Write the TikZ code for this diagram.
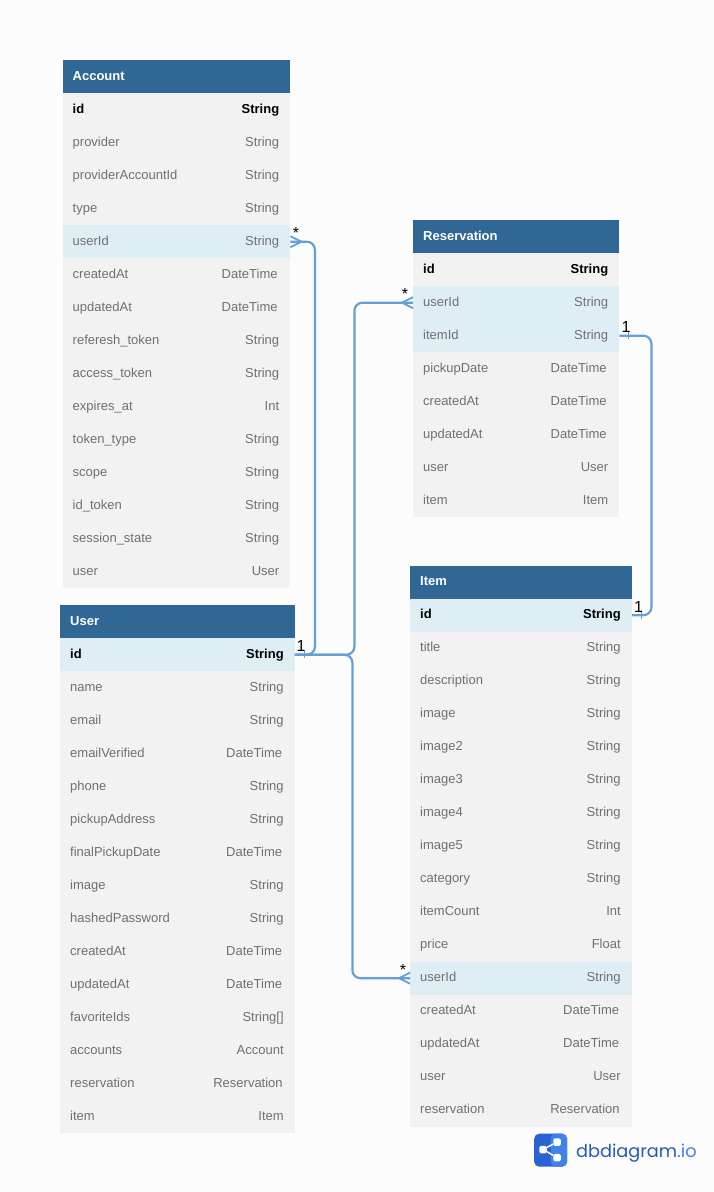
\documentclass[tikz,border=0pt]{standalone}
\usepackage{fontspec}
\setmainfont{Liberation Sans}
\newfontfamily\logofont{Poppins}
\usepackage{xcolor}
\definecolor{pagebg}{HTML}{FCFCFC}
\definecolor{headblue}{HTML}{316795}
\definecolor{bodygray}{HTML}{F2F2F2}
\definecolor{fkblue}{HTML}{DFEDF5}
\definecolor{fieldgray}{HTML}{707070}
\definecolor{linkblue}{HTML}{659FD6}
\definecolor{logodark}{HTML}{2A62D2}
\definecolor{logolight}{HTML}{3E83EA}
\newcommand{\tdate}{DateTime\kern1.6pt}
\newcommand{\tresv}{Reservation\kern1pt}
% table: name, left, top, width, title, rows
\newcommand{\dbtable}[6]{%
  \node[headbox,minimum width=#4pt] (#1-0) at (#2,#3) {};
  \node[headtext] (#1-title) at ([xshift=10pt,yshift=-3.5pt]#1-0.west) {#5};
  \foreach \rowname/\rowtype/\rowkind [count=\i] in {#6} {
    \node[rowbox,\rowkind,minimum width=#4pt] (#1-\i) at (#2,{#3+33*\i}) {};
    \node[rowtext,\rowkind,anchor=base west] (#1-\i-n) at ([xshift=10pt,yshift=-3.5pt]#1-\i.west) {\rowname};
    \node[rowtext,\rowkind,anchor=base east] (#1-\i-t) at ([xshift=-11pt,yshift=-3.5pt]#1-\i.east) {\rowtype};
  }%
}
% many end: anchor, direction away from the table
\newcommand{\crowfoot}[2]{%
  \draw[link,rounded corners=0pt,line width=1.8pt] ([yshift=5.5pt]#1) -- ([xshift=#2*11pt]#1) -- ([yshift=-5.5pt]#1);
}
% one end: anchor, distance from the table
\newcommand{\onetick}[2]{%
  \draw[link,rounded corners=0pt,line width=1.8pt] ([xshift=#2pt,yshift=3.5pt]#1) -- ([xshift=#2pt,yshift=-3.5pt]#1);
}
\begin{document}
\begin{tikzpicture}[%
  x=1pt,y=-1pt,
  every node/.style={font=\fontsize{13}{15}\selectfont},
  headbox/.style={anchor=north west,inner sep=0pt,minimum height=33pt,fill=headblue},
  headtext/.style={anchor=base west,inner sep=0pt,text=white,font=\fontsize{13}{15}\selectfont\bfseries},
  rowbox/.style={anchor=north west,inner sep=0pt,minimum height=33pt},
  rowtext/.style={inner sep=0pt,fill=none},
  rowplain/.style={fill=bodygray,text=fieldgray},
  rowfk/.style={fill=fkblue,text=fieldgray},
  rowpk/.style={fill=bodygray,text=black,font=\fontsize{13}{15}\selectfont\bfseries},
  rowpkfk/.style={fill=fkblue,text=black,font=\fontsize{13}{15}\selectfont\bfseries},
  link/.style={draw=linkblue,line width=2.2pt,rounded corners=8pt},
  endlabel/.style={inner sep=0pt,text=black,font=\fontsize{16}{18}\selectfont}]
\fill[pagebg] (0,0) rectangle (714,1192);
\useasboundingbox (0,0) rectangle (714,1192);

\dbtable{account}{62.5}{60}{227.5}{Account}{%
  id/String/rowpk,provider/String/rowplain,providerAccountId/String/rowplain,
  type/String/rowplain,userId/String/rowfk,createdAt/\tdate/rowplain,
  updatedAt/\tdate/rowplain,referesh\_token/String/rowplain,access\_token/String/rowplain,
  expires\_at/Int/rowplain,token\_type/String/rowplain,scope/String/rowplain,
  id\_token/String/rowplain,session\_state/String/rowplain,user/User/rowplain}

\dbtable{user}{60}{605}{234.5}{User}{%
  id/String/rowpkfk,name/String/rowplain,email/String/rowplain,
  emailVerified/\tdate/rowplain,phone/String/rowplain,pickupAddress/String/rowplain,
  finalPickupDate/\tdate/rowplain,image/String/rowplain,hashedPassword/String/rowplain,
  createdAt/\tdate/rowplain,updatedAt/\tdate/rowplain,favoriteIds/String[]/rowplain,
  accounts/Account/rowplain,reservation/\tresv/rowplain,item/Item/rowplain}

\dbtable{reservation}{413}{220}{206}{Reservation}{%
  id/String/rowpk,userId/String/rowfk,itemId/String/rowfk,
  pickupDate/\tdate/rowplain,createdAt/\tdate/rowplain,updatedAt/\tdate/rowplain,
  user/User/rowplain,item/Item/rowplain}

\dbtable{item}{410}{565.5}{221.5}{Item}{%
  id/String/rowpkfk,title/String/rowplain,description/String/rowplain,
  image/String/rowplain,image2/String/rowplain,image3/String/rowplain,
  image4/String/rowplain,image5/String/rowplain,category/String/rowplain,
  itemCount/Int/rowplain,price/Float/rowplain,userId/String/rowfk,
  createdAt/\tdate/rowplain,updatedAt/\tdate/rowplain,user/User/rowplain,
  reservation/\tresv/rowplain}

% connectors
\draw[link] (user-1.east) -- ++(20,0) |- (account-5.east);
\draw[link] (user-1.east) -- ++(59.5,0) |- (reservation-2.west);
\draw[link] (user-1.east) -- ++(57.5,0) |- (item-12.west);
\draw[link] (reservation-3.east) -- ++(32,0) |- (item-1.east);

\crowfoot{account-5.east}{1}
\crowfoot{reservation-2.west}{-1}
\crowfoot{item-12.west}{-1}
\onetick{user-1.east}{9.5}
\onetick{reservation-3.east}{9}
\onetick{item-1.east}{9.5}

\node[endlabel] (many-account) at (296,233) {*};
\node[endlabel] (many-reservation) at (405,294) {*};
\node[endlabel] (many-item) at (403,970) {*};
\node[endlabel] (one-user) at (301,646) {1};
\node[endlabel] (one-reservation) at (626,327) {1};
\node[endlabel] (one-item) at (638.5,607) {1};

% logo
\node[anchor=north west,inner sep=0pt,minimum size=33pt,rounded corners=5pt,fill=logodark,
  path picture={\fill[logolight] (path picture bounding box.north) rectangle (path picture bounding box.south east);}]
  (logo) at (534,1133.5) {};
\node[inner sep=0pt,minimum size=7.5pt,rounded corners=1.5pt,fill=white] (logo-a) at (543,1149.5) {};
\node[inner sep=0pt,minimum size=7.5pt,rounded corners=1.5pt,fill=white] (logo-b) at (557,1142) {};
\node[inner sep=0pt,minimum size=7.5pt,rounded corners=1.5pt,fill=white] (logo-c) at (557,1157.5) {};
\draw[white,line width=1.5pt] (logo-b) -- (logo-a) -- (logo-c);
\node[anchor=base west,inner sep=0pt,text=logodark!90!black,font=\fontsize{17.7}{20}\selectfont\logofont] (logo-text) at (576,1157)
  {dbdiagram\textcolor{logolight}{.io}};
\end{tikzpicture}
\end{document}
